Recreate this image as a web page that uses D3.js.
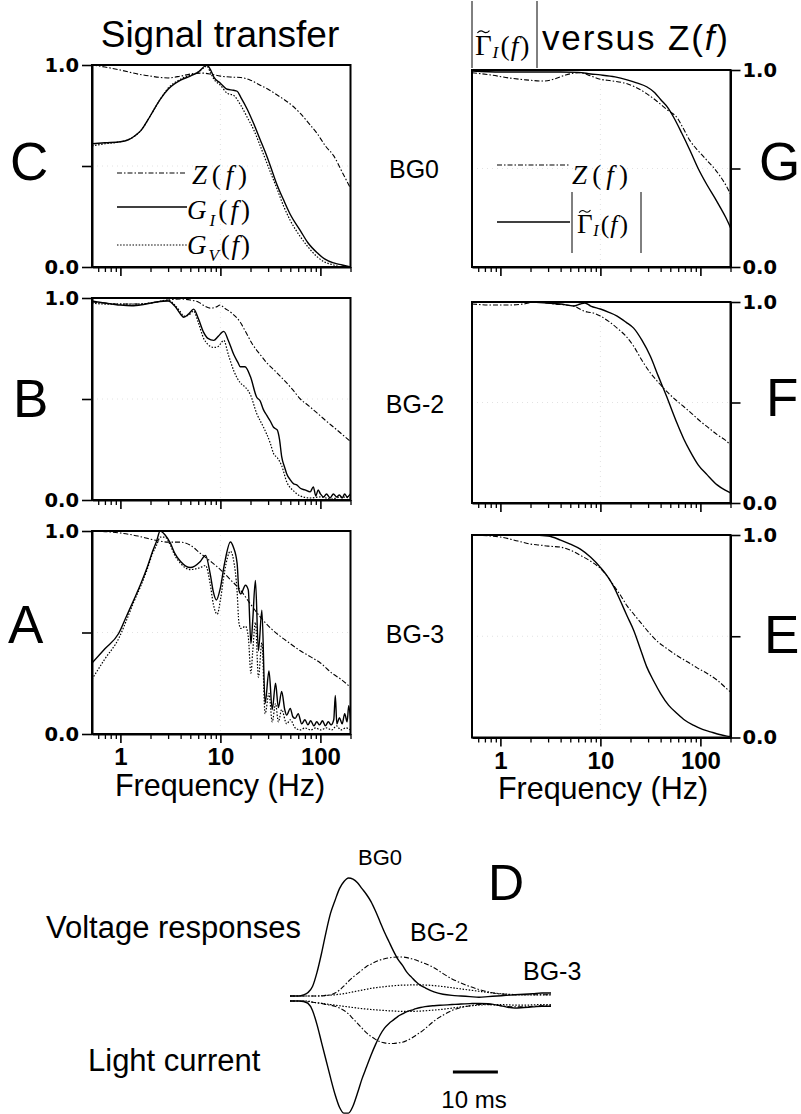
<!DOCTYPE html>
<html><head><meta charset="utf-8">
<script src="https://cdn.jsdelivr.net/npm/d3@7"></script>
<style>body{margin:0;background:#fff}svg{display:block}</style>
</head><body>
<svg id="c" width="801" height="1114"></svg>
<script>
// ---------------- DATA ----------------
// Panel C (BG0): signal transfer
const C_Z  = [[0.52,1.0],[0.7,0.99],[1,0.975],[1.5,0.955],[2,0.945],[3,0.936],[4,0.945],[5,0.955],[6.5,0.96],[8,0.955],[10,0.945],[13,0.94],[16,0.938],[20,0.925],[25,0.9],[30,0.88],[36,0.855],[43,0.83],[52,0.8],[63,0.76],[77,0.71],[93,0.66],[112,0.6],[136,0.55],[165,0.47],[200,0.39]];
const C_GI = [[0.52,0.61],[0.7,0.615],[1,0.62],[1.2,0.63],[1.4,0.65],[1.6,0.675],[2,0.75],[2.5,0.83],[3,0.88],[4,0.925],[5,0.945],[6,0.965],[7,0.995],[7.3,1.0],[8,0.975],[8.6,0.94],[10,0.91],[11.7,0.88],[13.5,0.875],[14.7,0.87],[16,0.84],[18.6,0.78],[21.5,0.71],[25,0.63],[28,0.57],[31.6,0.5],[36,0.42],[43,0.33],[50,0.26],[63,0.18],[75,0.12],[93,0.07],[110,0.04],[136,0.02],[165,0.01],[200,0.0]];
const C_GV = [[0.52,0.6],[0.7,0.61],[1,0.62],[1.2,0.63],[1.4,0.65],[1.6,0.675],[2,0.75],[2.5,0.83],[3,0.885],[4,0.93],[5,0.95],[6,0.965],[7,0.99],[7.3,0.995],[8,0.96],[8.6,0.93],[10,0.9],[11.7,0.86],[13.5,0.85],[16,0.8],[18.6,0.74],[21.5,0.68],[25,0.6],[31.6,0.47],[36,0.4],[43,0.3],[50,0.23],[63,0.15],[75,0.1],[93,0.05],[110,0.025],[136,0.01],[165,0.0],[200,0.0]];
// Panel B (BG-2)
const B_Z  = [[0.52,0.98],[0.7,0.975],[1,0.97],[1.5,0.97],[2,0.975],[3,0.99],[4,0.995],[5,0.99],[6,0.98],[7,0.96],[7.9,0.95],[9,0.955],[10,0.965],[11,0.95],[13,0.925],[15.8,0.88],[18,0.83],[21,0.77],[25,0.72],[29,0.68],[35,0.64],[43,0.595],[52,0.55],[63,0.5],[77,0.465],[93,0.43],[112,0.395],[136,0.36],[165,0.325],[200,0.29]];
const B_GI = [[0.52,0.985],[0.7,0.975],[1,0.965],[1.3,0.962],[1.7,0.968],[2.3,0.98],[3,0.985],[3.5,0.96],[4,0.92],[4.3,0.905],[4.8,0.92],[5.4,0.945],[6,0.9],[6.8,0.83],[7.5,0.8],[8.6,0.79],[9.5,0.81],[10.8,0.835],[12,0.79],[13.6,0.72],[15,0.68],[15.8,0.66],[17.6,0.66],[20,0.61],[23,0.51],[25,0.49],[27,0.446],[29,0.42],[31.6,0.39],[34,0.36],[37,0.347],[39,0.3],[41,0.215],[44,0.16],[46,0.13],[50,0.1],[54,0.08],[58,0.075],[63,0.058],[70,0.05],[79,0.04],[85,0.065],[90,0.02],[95,0.05],[100,0.03],[108,0.015],[115,0.03],[125,0.01],[135,0.03],[145,0.015],[155,0.025],[165,0.01],[175,0.03],[185,0.015],[200,0.03]];
const B_GV = [[0.52,0.975],[0.7,0.97],[1,0.97],[1.5,0.97],[2,0.975],[3,0.99],[3.5,0.965],[4,0.93],[4.3,0.91],[4.8,0.915],[5.4,0.935],[6,0.88],[6.8,0.8],[7.5,0.77],[8.6,0.755],[9.5,0.76],[10.8,0.79],[12,0.72],[13.6,0.64],[15.8,0.58],[17.6,0.56],[20,0.52],[23,0.43],[27,0.36],[31.6,0.28],[34,0.23],[37,0.21],[41,0.17],[46,0.09],[54,0.045],[63,0.02],[79,0.01],[100,0.015],[130,0.005],[160,0.015],[200,0.01]];
// Panel A (BG-3)
const A_Z  = [[0.52,1.0],[0.8,0.995],[1,0.99],[1.5,0.975],[2,0.96],[2.5,0.95],[3,0.945],[4,0.945],[5,0.93],[6.3,0.89],[8,0.85],[10,0.81],[12.6,0.76],[15.8,0.71],[20,0.64],[25,0.577],[32,0.52],[40,0.48],[50,0.445],[63,0.41],[80,0.38],[100,0.35],[130,0.3],[160,0.27],[200,0.23]];
const A_GI = [[0.52,0.35],[0.7,0.42],[0.96,0.495],[1.15,0.58],[1.36,0.66],[1.6,0.74],[1.85,0.82],[2.1,0.9],[2.3,0.95],[2.5,1.0],[2.8,0.98],[3.16,0.94],[3.5,0.89],[4,0.85],[5,0.82],[6.3,0.85],[7.1,0.88],[7.9,0.79],[8.5,0.7],[9.1,0.66],[10,0.72],[11,0.84],[12.6,0.946],[13.5,0.92],[14.7,0.84],[15.3,0.71],[16,0.69],[17.8,0.733],[19,0.71],[20.2,0.446],[21,0.55],[22.4,0.757],[24,0.41],[26,0.61],[28,0.15],[30.6,0.31],[33,0.12],[35.6,0.25],[38,0.13],[41,0.21],[44,0.12],[46,0.093],[50,0.126],[53,0.085],[56,0.077],[60,0.1],[65,0.05],[70,0.07],[75,0.045],[80,0.065],[86,0.04],[92,0.06],[98,0.045],[105,0.065],[112,0.04],[120,0.06],[128,0.045],[136,0.07],[141,0.19],[146,0.05],[155,0.08],[165,0.05],[175,0.1],[185,0.06],[192,0.14],[200,0.07]];
const A_GV = [[0.52,0.27],[0.7,0.37],[0.96,0.47],[1.15,0.56],[1.36,0.65],[1.6,0.73],[1.85,0.81],[2.1,0.89],[2.3,0.93],[2.5,0.97],[2.8,0.97],[3.16,0.93],[3.5,0.88],[4,0.84],[5,0.81],[6.3,0.82],[7.1,0.83],[7.9,0.74],[8.5,0.64],[9.3,0.59],[10,0.66],[11,0.8],[12.6,0.9],[13.5,0.86],[14.7,0.7],[15.3,0.55],[16,0.52],[17.8,0.53],[19,0.48],[20.2,0.3],[21,0.4],[22.4,0.55],[24,0.28],[26,0.45],[28,0.1],[30.6,0.2],[33,0.06],[35.6,0.15],[38,0.06],[41,0.12],[46,0.05],[50,0.07],[56,0.03],[63,0.02],[70,0.03],[80,0.02],[90,0.03],[100,0.02],[115,0.03],[130,0.02],[145,0.04],[160,0.02],[180,0.03],[200,0.02]];
// Panel G (BG0): |Gamma_I| versus Z
const G_Z  = [[0.52,0.986],[0.8,0.975],[1.2,0.96],[1.8,0.95],[2.7,0.944],[3.5,0.955],[4.5,0.975],[6.3,0.986],[8,0.97],[10,0.953],[13,0.945],[18.5,0.93],[23,0.91],[29,0.88],[36,0.845],[46,0.8],[59,0.755],[68,0.7],[79,0.64],[95,0.59],[117,0.54],[138,0.5],[159,0.458],[180,0.415],[200,0.37]];
const G_G  = [[0.52,0.995],[1,0.99],[2,0.99],[4,0.99],[6,0.988],[8,0.98],[10,0.975],[14,0.965],[18.5,0.95],[23,0.935],[29,0.915],[35,0.885],[40,0.85],[47,0.81],[54,0.76],[65,0.68],[79,0.59],[95,0.5],[117,0.415],[138,0.355],[159,0.3],[180,0.25],[200,0.2]];
// Panel F (BG-2)
const F_Z  = [[0.52,0.99],[0.8,0.985],[1.2,0.985],[1.7,0.99],[2.3,1.0],[3.5,0.99],[5.4,0.98],[6.5,0.96],[7.4,0.95],[8.5,0.945],[10,0.93],[12,0.905],[14.7,0.87],[18,0.83],[21.5,0.78],[26,0.71],[31.6,0.647],[38,0.6],[46,0.555],[56,0.515],[68,0.48],[82,0.445],[100,0.406],[120,0.375],[147,0.34],[175,0.315],[200,0.29]];
const F_G  = [[0.52,1.0],[1,1.0],[2,1.0],[3,0.995],[4,0.99],[5.4,0.98],[6.3,0.99],[7,0.995],[8,0.98],[10,0.965],[12,0.95],[14.7,0.93],[18,0.9],[21.5,0.87],[26,0.81],[31.6,0.73],[38,0.63],[46,0.53],[52,0.46],[58,0.4],[68,0.32],[79,0.257],[95,0.19],[117,0.14],[147,0.09],[175,0.065],[200,0.05]];
// Panel E (BG-3)
const E_Z  = [[0.52,1.0],[1,0.99],[1.5,0.97],[2,0.955],[2.5,0.95],[3,0.945],[4,0.94],[5,0.925],[6.3,0.9],[8,0.87],[10,0.835],[12,0.79],[13.6,0.75],[16,0.7],[18.5,0.65],[21.5,0.61],[26,0.56],[31.6,0.51],[38,0.47],[46,0.44],[58,0.405],[74,0.374],[92,0.345],[117,0.316],[150,0.28],[184,0.24],[200,0.225]];
const E_G  = [[0.52,1.0],[1,1.0],[2,1.0],[3,0.995],[4,0.975],[5,0.955],[6.3,0.93],[8,0.89],[10,0.84],[12,0.79],[13.6,0.745],[16,0.67],[18.5,0.6],[21.5,0.53],[25,0.44],[29,0.35],[34,0.28],[40,0.217],[48,0.16],[58,0.12],[70,0.085],[86,0.06],[105,0.04],[126,0.028],[155,0.015],[184,0.007],[200,0.005]];
// Panel D: time courses (ms), normalised amplitude
const D_T    = [0,2,3,4,5,6,7,8,9,10,11,12,13,14,15,16,17,18,19,20,21,22,23,24,25,26,27,28,29,30,32,34,36,38,40,42,44,46,48,50,52,54,56,58];
const V_BG0  = [0,0,0.01,0.03,0.08,0.2,0.36,0.54,0.7,0.81,0.91,0.97,1.0,0.99,0.96,0.91,0.86,0.8,0.72,0.63,0.54,0.46,0.38,0.31,0.26,0.2,0.16,0.12,0.09,0.07,0.035,0.015,0.005,0,-0.005,-0.01,-0.005,0,0.005,0.01,0.015,0.02,0.025,0.025];
const V_BG2  = [0,0,0,0,0,0,0,0.005,0.01,0.025,0.05,0.085,0.125,0.16,0.19,0.22,0.25,0.27,0.29,0.305,0.315,0.323,0.328,0.33,0.33,0.325,0.315,0.305,0.29,0.275,0.24,0.19,0.145,0.11,0.08,0.055,0.035,0.02,0.015,0.01,0.01,0.01,0.01,0.01];
const V_BG3  = [0,0,0,0,0,0,0.002,0.005,0.007,0.01,0.015,0.02,0.027,0.035,0.042,0.05,0.057,0.065,0.07,0.075,0.079,0.083,0.087,0.09,0.092,0.093,0.094,0.095,0.094,0.093,0.088,0.08,0.07,0.06,0.05,0.04,0.03,0.022,0.016,0.012,0.01,0.01,0.01,0.01];
const I_BG0  = [0,0,-0.005,-0.02,-0.08,-0.2,-0.35,-0.5,-0.65,-0.79,-0.9,-0.95,-0.95,-0.89,-0.78,-0.66,-0.56,-0.46,-0.37,-0.29,-0.23,-0.19,-0.16,-0.13,-0.11,-0.09,-0.078,-0.065,-0.055,-0.048,-0.04,-0.035,-0.03,-0.025,-0.022,-0.02,-0.022,-0.035,-0.05,-0.06,-0.055,-0.05,-0.045,-0.045];
const I_BG2  = [0,0,0,-0.005,-0.01,-0.015,-0.02,-0.03,-0.035,-0.045,-0.06,-0.08,-0.11,-0.15,-0.19,-0.23,-0.27,-0.3,-0.325,-0.345,-0.355,-0.36,-0.36,-0.355,-0.35,-0.335,-0.315,-0.29,-0.265,-0.235,-0.17,-0.12,-0.08,-0.055,-0.04,-0.03,-0.03,-0.035,-0.045,-0.05,-0.05,-0.045,-0.04,-0.04];
const I_BG3  = [0,0,0,0,-0.01,-0.015,-0.02,-0.025,-0.03,-0.035,-0.04,-0.045,-0.05,-0.055,-0.06,-0.065,-0.068,-0.072,-0.075,-0.078,-0.08,-0.083,-0.085,-0.087,-0.088,-0.088,-0.088,-0.087,-0.085,-0.083,-0.077,-0.07,-0.06,-0.05,-0.042,-0.035,-0.03,-0.03,-0.032,-0.035,-0.035,-0.033,-0.03,-0.03];
// Axes
const FREQ_DOMAIN = [0.52, 200];
const X_MAJOR = [1, 10, 100];
const X_MINOR = [0.6,0.7,0.8,0.9,2,3,4,5,6,7,8,9,20,30,40,50,60,70,80,90,200];
const Y_TICKS = [0, 0.5, 1];
const SCALE_BAR_MS = [36.2, 46.2];

// ---------------- DRAW ----------------
const svg = d3.select("#c");
svg.append("rect").attr("width",801).attr("height",1114).attr("fill","#fff");
const SANS = "'Liberation Sans', Arial, sans-serif";
const SERIF = "'Liberation Serif','Times New Roman',serif";
const TICKF = "'DejaVu Sans', sans-serif";
const STY = {
  solid:   {w:1.4, dash:null},
  dashdot: {w:1.1, dash:"5,2,1.5,2"},
  dot:     {w:1.2, dash:"1.5,1.6"}
};
const defs = svg.append("defs");

function drawPanel(p){
  const x = d3.scaleLog().domain(FREQ_DOMAIN).range([p.x0, p.x1]);
  const y = d3.scaleLinear().domain([0,1]).range([p.y1, p.y0]);
  const g = svg.append("g");
  const cid = "clip"+p.id;
  defs.append("clipPath").attr("id",cid).append("rect")
    .attr("x",p.x0).attr("y",p.y0-1).attr("width",p.x1-p.x0).attr("height",p.y1-p.y0+1);
  // faint grid marks (scan artefacts in original)
  g.append("line").attr("x1",x(10)).attr("x2",x(10)).attr("y1",p.y0+4).attr("y2",p.y1)
    .attr("stroke","#e2e2e2").attr("stroke-dasharray","1,4");
  g.append("line").attr("x1",p.x0).attr("x2",p.x1).attr("y1",y(0.5)).attr("y2",y(0.5))
    .attr("stroke","#e2e2e2").attr("stroke-dasharray","1,4");
  const line = d3.line().x(d=>x(d[0])).y(d=>y(d[1])).curve(d3.curveMonotoneX);
  p.series.forEach(([data, st])=>{
    g.append("path").attr("d", line(data)).attr("fill","none").attr("stroke","#000")
      .attr("stroke-width", STY[st].w).attr("stroke-dasharray", STY[st].dash)
      .attr("stroke-linejoin","round").attr("clip-path",`url(#${cid})`);
  });
  // frame
  g.append("rect").attr("x",p.x0).attr("y",p.y0).attr("width",p.x1-p.x0).attr("height",p.y1-p.y0)
    .attr("fill","none").attr("stroke","#000").attr("stroke-width",2);
  // x axis
  const ax = g.append("g").attr("transform",`translate(0,${p.y1})`)
    .call(d3.axisBottom(x).tickValues(X_MAJOR).tickSize(9).tickSizeOuter(0).tickPadding(5)
      .tickFormat(p.xlab ? d3.format("d") : ()=>""));
  ax.select(".domain").attr("stroke-width",2);
  ax.selectAll(".tick line").attr("stroke-width",1.6);
  ax.selectAll("text").attr("font-family",SANS).attr("font-weight","bold").attr("font-size",24).attr("fill","#000");
  const mx = g.append("g").attr("transform",`translate(0,${p.y1})`)
    .call(d3.axisBottom(x).tickValues(X_MINOR).tickSize(5).tickSizeOuter(0).tickFormat(()=>""));
  mx.select(".domain").remove();
  mx.selectAll(".tick line").attr("stroke-width",1.3);
  // y axis
  const left = p.side === "left";
  const yaxis = (left ? d3.axisLeft(y) : d3.axisRight(y)).tickValues(Y_TICKS).tickSize(10).tickSizeOuter(0)
    .tickPadding(left ? 3 : 2).tickFormat(d => d === 0.5 ? "" : d3.format(".1f")(d));
  const ay = g.append("g").attr("transform",`translate(${left ? p.x0 : p.x1},0)`).call(yaxis);
  ay.select(".domain").attr("stroke-width",2);
  ay.selectAll(".tick line").attr("stroke-width",1.6);
  ay.selectAll("text").attr("font-family",TICKF).attr("font-weight","bold").attr("font-size",19.5).attr("fill","#000");
  return {x, y};
}

const LX0 = 92, LX1 = 350.5, RX0 = 472, RX1 = 730.5;
drawPanel({id:"C", x0:LX0, x1:LX1, y0:65,  y1:267, side:"left",  xlab:false, series:[[C_Z,"dashdot"],[C_GV,"dot"],[C_GI,"solid"]]});
drawPanel({id:"B", x0:LX0, x1:LX1, y0:298, y1:500, side:"left",  xlab:false, series:[[B_Z,"dashdot"],[B_GV,"dot"],[B_GI,"solid"]]});
drawPanel({id:"A", x0:LX0, x1:LX1, y0:531, y1:734, side:"left",  xlab:true,  series:[[A_Z,"dashdot"],[A_GV,"dot"],[A_GI,"solid"]]});
drawPanel({id:"G", x0:RX0, x1:RX1, y0:70,  y1:267, side:"right", xlab:false, series:[[G_Z,"dashdot"],[G_G,"solid"]]});
drawPanel({id:"F", x0:RX0, x1:RX1, y0:302, y1:503, side:"right", xlab:false, series:[[F_Z,"dashdot"],[F_G,"solid"]]});
drawPanel({id:"E", x0:RX0, x1:RX1, y0:535, y1:737.5, side:"right", xlab:true, series:[[E_Z,"dashdot"],[E_G,"solid"]]});

function txt(s, x, y, size, opts={}){
  return svg.append("text").attr("x",x).attr("y",y).attr("font-size",size)
    .attr("font-family",opts.family||SANS).attr("font-weight",opts.weight||"normal")
    .attr("font-style",opts.style||"normal").attr("text-anchor",opts.anchor||"start")
    .attr("fill","#000").text(s);
}
// Γ̃_I(f) group: Gamma with a drawn tilde accent above it, subscript I, then (f)
function gammaLabel(x, y, size){
  txt("Γ", x, y, size, {family:SERIF});
  const w = 0.42*size, tx0 = x + 0.08*size, ty = y - 0.8*size;
  svg.append("path")
    .attr("d", `M${tx0},${ty+1.2} Q${tx0+w*0.25},${ty-2.2} ${tx0+w*0.5},${ty} T${tx0+w},${ty-1.2}`)
    .attr("fill","none").attr("stroke","#000").attr("stroke-width",1.1);
  txt("I", x + 0.6*size, y + 3, size*0.6, {family:SERIF, style:"italic"});
  const t = svg.append("text").attr("x", x + 0.88*size).attr("y", y).attr("font-size", size*0.95)
    .attr("font-family",SERIF).attr("fill","#000");
  t.append("tspan").text("(");
  t.append("tspan").attr("font-style","italic").attr("dx",1).text("f");
  t.append("tspan").attr("dx",2).text(")");
}
// titles
txt("Signal transfer", 220, 47, 37, {anchor:"middle"});
svg.append("line").attr("x1",RX0).attr("x2",RX0).attr("y1",1).attr("y2",68).attr("stroke","#000").attr("stroke-width",1);
svg.append("line").attr("x1",537).attr("x2",537).attr("y1",1).attr("y2",68).attr("stroke","#000").attr("stroke-width",1);
gammaLabel(475, 55, 29);
(function(){
  const t = svg.append("text").attr("x",542).attr("y",50).attr("font-size",35).attr("font-family",SANS).attr("fill","#000")
    .attr("textLength",186).attr("lengthAdjust","spacing");
  t.append("tspan").text("versus Z(");
  t.append("tspan").attr("font-style","italic").text("f");
  t.append("tspan").text(")");
})();

// panel letters
[["C",10,180],["B",13,417],["A",8,643],["G",759,180],["F",766,416],["E",764,653]].forEach(([s,x,y])=>txt(s,x,y,53));
// middle labels
txt("BG0", 414, 178, 25, {anchor:"middle"});
txt("BG-2", 415, 413, 25, {anchor:"middle"});
txt("BG-3", 415, 643, 25, {anchor:"middle"});
// frequency labels
txt("Frequency (Hz)", 220, 796, 30.5, {anchor:"middle"});
txt("Frequency (Hz)", 603, 799, 30.5, {anchor:"middle"});

// legends
function legendLine(x1,x2,y,st){
  svg.append("line").attr("x1",x1).attr("x2",x2).attr("y1",y).attr("y2",y).attr("stroke","#000")
    .attr("stroke-width",STY[st].w).attr("stroke-dasharray",STY[st].dash);
}
function fLabel(x, y, main, sub, len){
  const t = svg.append("text").attr("x",x).attr("y",y).attr("font-size",27).attr("font-family",SERIF).attr("fill","#000")
    .attr("textLength",len).attr("lengthAdjust","spacing");
  t.append("tspan").attr("font-style","italic").text(main);
  let dy = 0;
  if (sub){ t.append("tspan").attr("font-style","italic").attr("font-size",17).attr("dy",7).text(sub); dy = -7; }
  t.append("tspan").attr("dy",dy).text("(");
  t.append("tspan").attr("font-style","italic").text("f");
  t.append("tspan").text(")");
}
legendLine(117,187,173,"dashdot"); fLabel(192,184,"Z",null,55);
legendLine(117,187,207,"solid");   fLabel(187,219,"G","I",63);
legendLine(117,187,245,"dot");     fLabel(187,254,"G","V",63);
// legend G
legendLine(497,570,165,"dashdot"); fLabel(572,184,"Z",null,56);
legendLine(497,570,222,"solid");
svg.append("line").attr("x1",572).attr("x2",572).attr("y1",192).attr("y2",253).attr("stroke","#000").attr("stroke-width",1);
svg.append("line").attr("x1",641).attr("x2",641).attr("y1",192).attr("y2",253).attr("stroke","#000").attr("stroke-width",1);
gammaLabel(577, 233, 27);

// ---------------- Panel D ----------------
const tx = d3.scaleLinear().domain([0, 58]).range([290, 551]);
const yV = d3.scaleLinear().domain([0, 1]).range([996, 878]);
const yI = d3.scaleLinear().domain([0, 1]).range([1001, 883]);
function trace(vals, ys, st){
  const ln = d3.line().x((d,i)=>tx(D_T[i])).y(d=>ys(d)).curve(d3.curveMonotoneX);
  svg.append("path").attr("d", ln(vals)).attr("fill","none").attr("stroke","#000")
    .attr("stroke-width",STY[st].w).attr("stroke-dasharray",STY[st].dash);
}
trace(V_BG3, yV, "dot"); trace(V_BG2, yV, "dashdot"); trace(V_BG0, yV, "solid");
trace(I_BG3, yI, "dot"); trace(I_BG2, yI, "dashdot"); trace(I_BG0, yI, "solid");
svg.append("line").attr("x1",tx(SCALE_BAR_MS[0])).attr("x2",tx(SCALE_BAR_MS[1])).attr("y1",1072).attr("y2",1072)
  .attr("stroke","#000").attr("stroke-width",3);
txt("10 ms", 474, 1108, 24, {anchor:"middle"});
txt("BG0", 380, 865, 22, {anchor:"middle"});
txt("BG-2", 410, 941, 25);
txt("BG-3", 523, 980, 25);
txt("D", 488, 900, 50);
txt("Voltage responses", 46, 938, 31);
txt("Light current", 88, 1071, 31);
</script>
</body></html>
